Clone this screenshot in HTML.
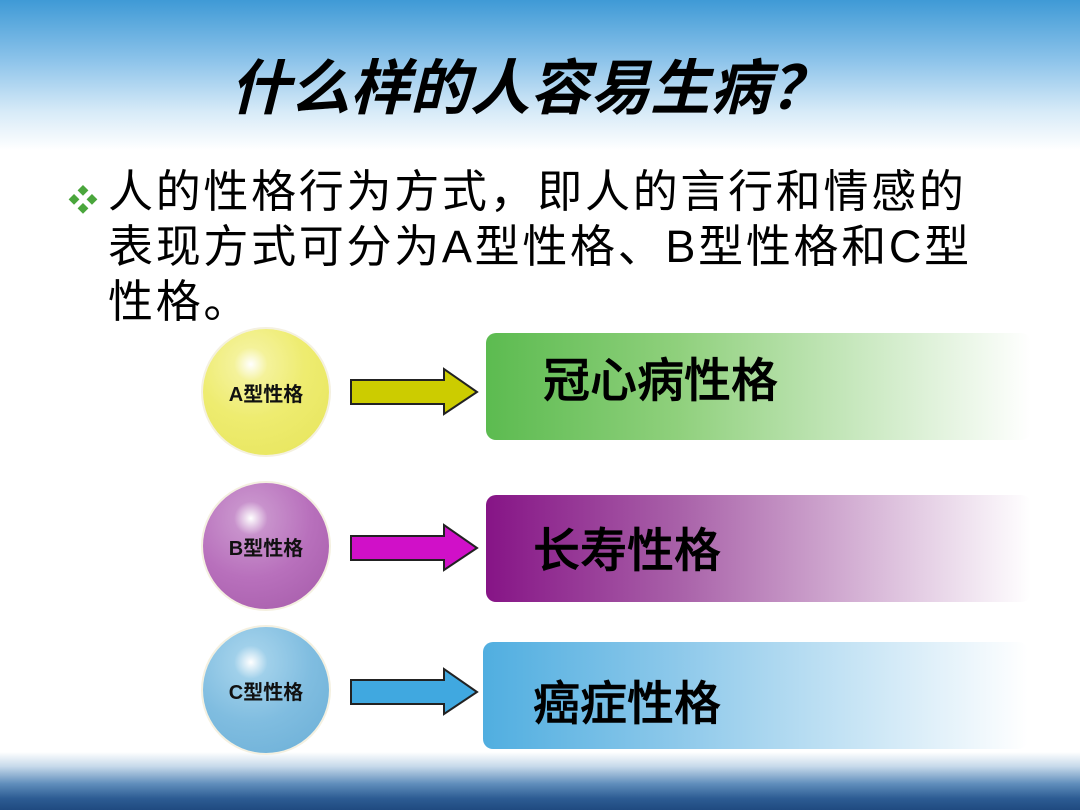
<!DOCTYPE html>
<html><head><meta charset="utf-8"><style>
body{margin:0;width:1080px;height:810px;overflow:hidden;position:relative;background:#fff;font-family:"Liberation Sans","Noto Sans CJK SC",sans-serif}
.top{position:absolute;left:0;top:0;width:1080px;height:150px;background:linear-gradient(#3f9ad6 0%,#8cc3ea 40%,#d8ebf8 75%,#fff 100%)}
.bot{position:absolute;left:0;top:752px;width:1080px;height:58px;background:linear-gradient(#fff 0%,#c6d9ea 25%,#5f8dbb 55%,#2d5c93 80%,#1f4a80 100%)}
.title{position:absolute;left:0;width:1060px;top:40px;text-align:center;font-size:60px;font-style:italic;font-weight:bold;color:#000}
.txt{position:absolute;left:108px;top:164px;font-size:45px;line-height:55px;color:#000;width:940px;white-space:nowrap;letter-spacing:2.7px}
.bul{position:absolute;left:68px;top:176px;color:#4aa63c;font-size:30px}
.c{position:absolute;width:126px;height:126px;border-radius:50%;box-shadow:0 0 0 2px #f4f0e0;display:flex;align-items:center;justify-content:center;font-size:20px;font-weight:bold;color:#111}
.box{position:absolute;width:545px;height:107px;border-radius:10px;font-size:47px;color:#000;font-weight:500}
.box span{position:absolute;top:18px;-webkit-text-stroke:0.6px #000}
</style></head><body>
<div class="top"></div><div class="bot"></div>
<div class="title">什么样的人容易生病？</div>
<div class="bul">❖</div>
<div class="txt">人的性格行为方式，即人的言行和情感的<br>表现方式可分为A型性格、B型性格和C型<br>性格。</div>

<div class="c" style="left:203px;top:329px;background:radial-gradient(circle at 38% 28%,#fff 0,#f4f29a 14%,#eeec70 45%,#e6e45a 100%)">A型性格</div>
<div class="c" style="left:203px;top:483px;background:radial-gradient(circle at 38% 28%,#fff 0,#c892cc 14%,#b870bc 50%,#a45aa8 100%)">B型性格</div>
<div class="c" style="left:203px;top:627px;background:radial-gradient(circle at 38% 28%,#fff 0,#a0d0ea 14%,#80bde0 50%,#6aaed6 100%)">C型性格</div>

<svg style="position:absolute;left:0;top:0" width="1080" height="810">
<polygon points="351,380 444,380 444,369 477,392 444,414 444,404 351,404" fill="#cccc00" stroke="#222" stroke-width="2"/>
<polygon points="351,536 444,536 444,525 477,548 444,570 444,560 351,560" fill="#d010c8" stroke="#222" stroke-width="2"/>
<polygon points="351,680 444,680 444,669 477,692 444,714 444,704 351,704" fill="#40a8e0" stroke="#222" stroke-width="2"/>
</svg>

<div class="box" style="left:486px;top:333px;background:linear-gradient(90deg,#5cbb50 0%,#8fd07c 35%,#fff 100%)"><span style="left:57px;top:9px">冠心病性格</span></div>
<div class="box" style="left:486px;top:495px;background:linear-gradient(90deg,#861486 0%,#a860a8 35%,#fff 100%)"><span style="left:47px;top:17px">长寿性格</span></div>
<div class="box" style="left:483px;top:642px;background:linear-gradient(90deg,#50aee0 0%,#8cc8ea 35%,#fff 100%)"><span style="left:50px;top:23px">癌症性格</span></div>
</body></html>
